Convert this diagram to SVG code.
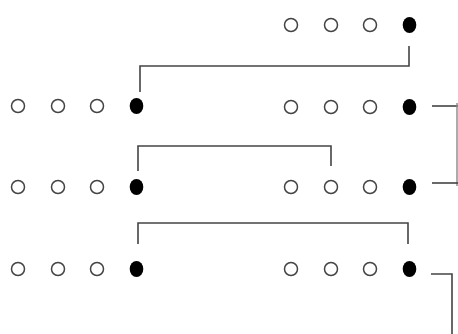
<svg xmlns="http://www.w3.org/2000/svg" width="458" height="334" viewBox="0 0 458 334">
<style>
.o{fill:#fff;stroke:#444;stroke-width:1.5}
.f{fill:#000}
.c{fill:none;stroke:#444;stroke-width:1.6}
</style>
<defs>
<g id="row">
<circle class="o" cx="0" cy="0" r="6.5"/>
<circle class="o" cx="40" cy="0" r="6.5"/>
<circle class="o" cx="79" cy="0" r="6.5"/>
<ellipse class="f" cx="118.5" cy="0" rx="6.8" ry="8"/>
</g>
</defs>
<rect width="458" height="334" fill="#fff"/>
<g id="connectors">
<polyline class="c" points="409,46 409,66 140,66 140,92"/>
<polyline class="c" points="432,106 458,106"/>
<line x1="457" y1="103" x2="457" y2="186" stroke="#888" stroke-width="1.4"/>
<polyline class="c" points="432,183 458,183"/>
<polyline class="c" points="138,171 138,146 331,146 331,166"/>
<polyline class="c" points="138,244 138,223 408,223 408,244"/>
<polyline class="c" points="431,274 452,274 452,334"/>
</g>
<g id="r1-right"><use href="#row" x="291" y="25"/></g>
<g id="r2-left"><use href="#row" x="18" y="106"/></g>
<g id="r2-right"><use href="#row" x="291" y="107"/></g>
<g id="r3-left"><use href="#row" x="18" y="187"/></g>
<g id="r3-right"><use href="#row" x="291" y="187"/></g>
<g id="r4-left"><use href="#row" x="18" y="269"/></g>
<g id="r4-right"><use href="#row" x="291" y="269"/></g>
</svg>
